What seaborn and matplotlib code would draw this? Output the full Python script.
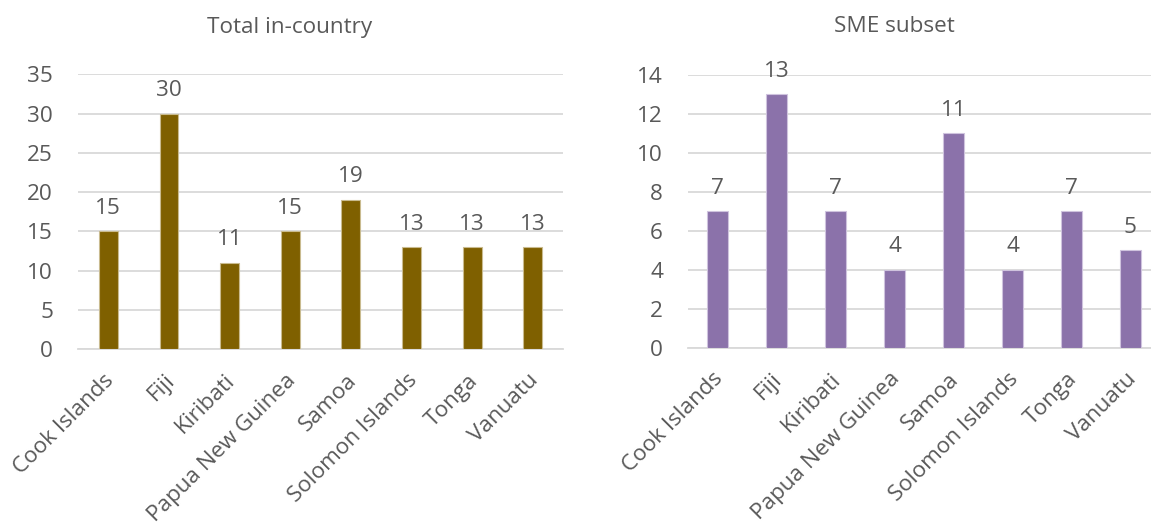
import matplotlib
matplotlib.use("Agg")
import matplotlib.pyplot as plt
import matplotlib.transforms as mtransforms
import seaborn as sns
import pandas as pd

countries = ["Cook Islands", "Fiji", "Kiribati", "Papua New Guinea", "Samoa",
             "Solomon Islands", "Tonga", "Vanuatu"]
total_in_country = [15, 30, 11, 15, 19, 13, 13, 13]
sme_subset = [7, 13, 7, 4, 11, 4, 7, 5]
left_ticks = [0, 5, 10, 15, 20, 25, 30, 35]
right_ticks = [0, 2, 4, 6, 8, 10, 12, 14]

sns.set_theme(style="white")
plt.rcParams['font.family'] = ['Open Sans', 'DejaVu Sans']

TXT = "#595959"
GRID = "#D9D9D9"
FS = 16.2

fig = plt.figure(figsize=(11.51, 5.25), dpi=100)
ax1 = fig.add_axes([0.0678, 0.3347, 0.4214, 0.5238])
ax2 = fig.add_axes([0.5977, 0.3377, 0.4101, 0.5200])

df1 = pd.DataFrame({"country": countries, "value": total_in_country})
df2 = pd.DataFrame({"country": countries, "value": sme_subset})

sns.barplot(data=df1, x="country", y="value", color="#7F6000", saturation=1,
            width=0.31, edgecolor="#C9BB8F", linewidth=0.8, ax=ax1, zorder=3)
sns.barplot(data=df2, x="country", y="value", color="#8B72AA", saturation=1,
            width=0.35, edgecolor="#CFC3DE", linewidth=0.8, ax=ax2, zorder=3)

offset = mtransforms.ScaledTranslation(-5 / 100, 0, fig.dpi_scale_trans)

for ax, ticks, vals in [(ax1, left_ticks, total_in_country), (ax2, right_ticks, sme_subset)]:
    ax.set_ylim(ticks[0], ticks[-1])
    ax.set_yticks(ticks)
    ax.set_xlim(-0.5, len(countries) - 0.5)
    ax.yaxis.grid(True, color=GRID, linewidth=1.3, zorder=0)
    ax.set_axisbelow(True)
    for s in ["top", "right", "left"]:
        ax.spines[s].set_visible(False)
    ax.spines["bottom"].set_color(GRID)
    ax.spines["bottom"].set_linewidth(1.3)
    ax.spines["bottom"].set_zorder(2)
    ax.set_xlabel("")
    ax.set_ylabel("")
    ax.tick_params(axis="y", length=0, pad=18, labelsize=FS, labelcolor=TXT)
    ax.tick_params(axis="x", length=0, pad=15, labelsize=FS, labelcolor=TXT)
    ax.set_xticks(range(len(countries)))
    ax.set_xticklabels(countries, rotation=45, ha="right", rotation_mode="anchor")
    for lbl in ax.get_xticklabels():
        lbl.set_transform(lbl.get_transform() + offset)
    for container in ax.containers:
        ax.bar_label(container, labels=[str(v) for v in vals], padding=9,
                     fontsize=FS, color=TXT)

fig.text(290 / 1151, 1 - 27 / 525, "Total in-country", ha="center", va="center",
         fontsize=FS, color=TXT)
fig.text(894 / 1151, 1 - 27 / 525, "SME subset", ha="center", va="center",
         fontsize=FS, color=TXT)

fig.savefig("out.png", dpi=100, facecolor="white")
